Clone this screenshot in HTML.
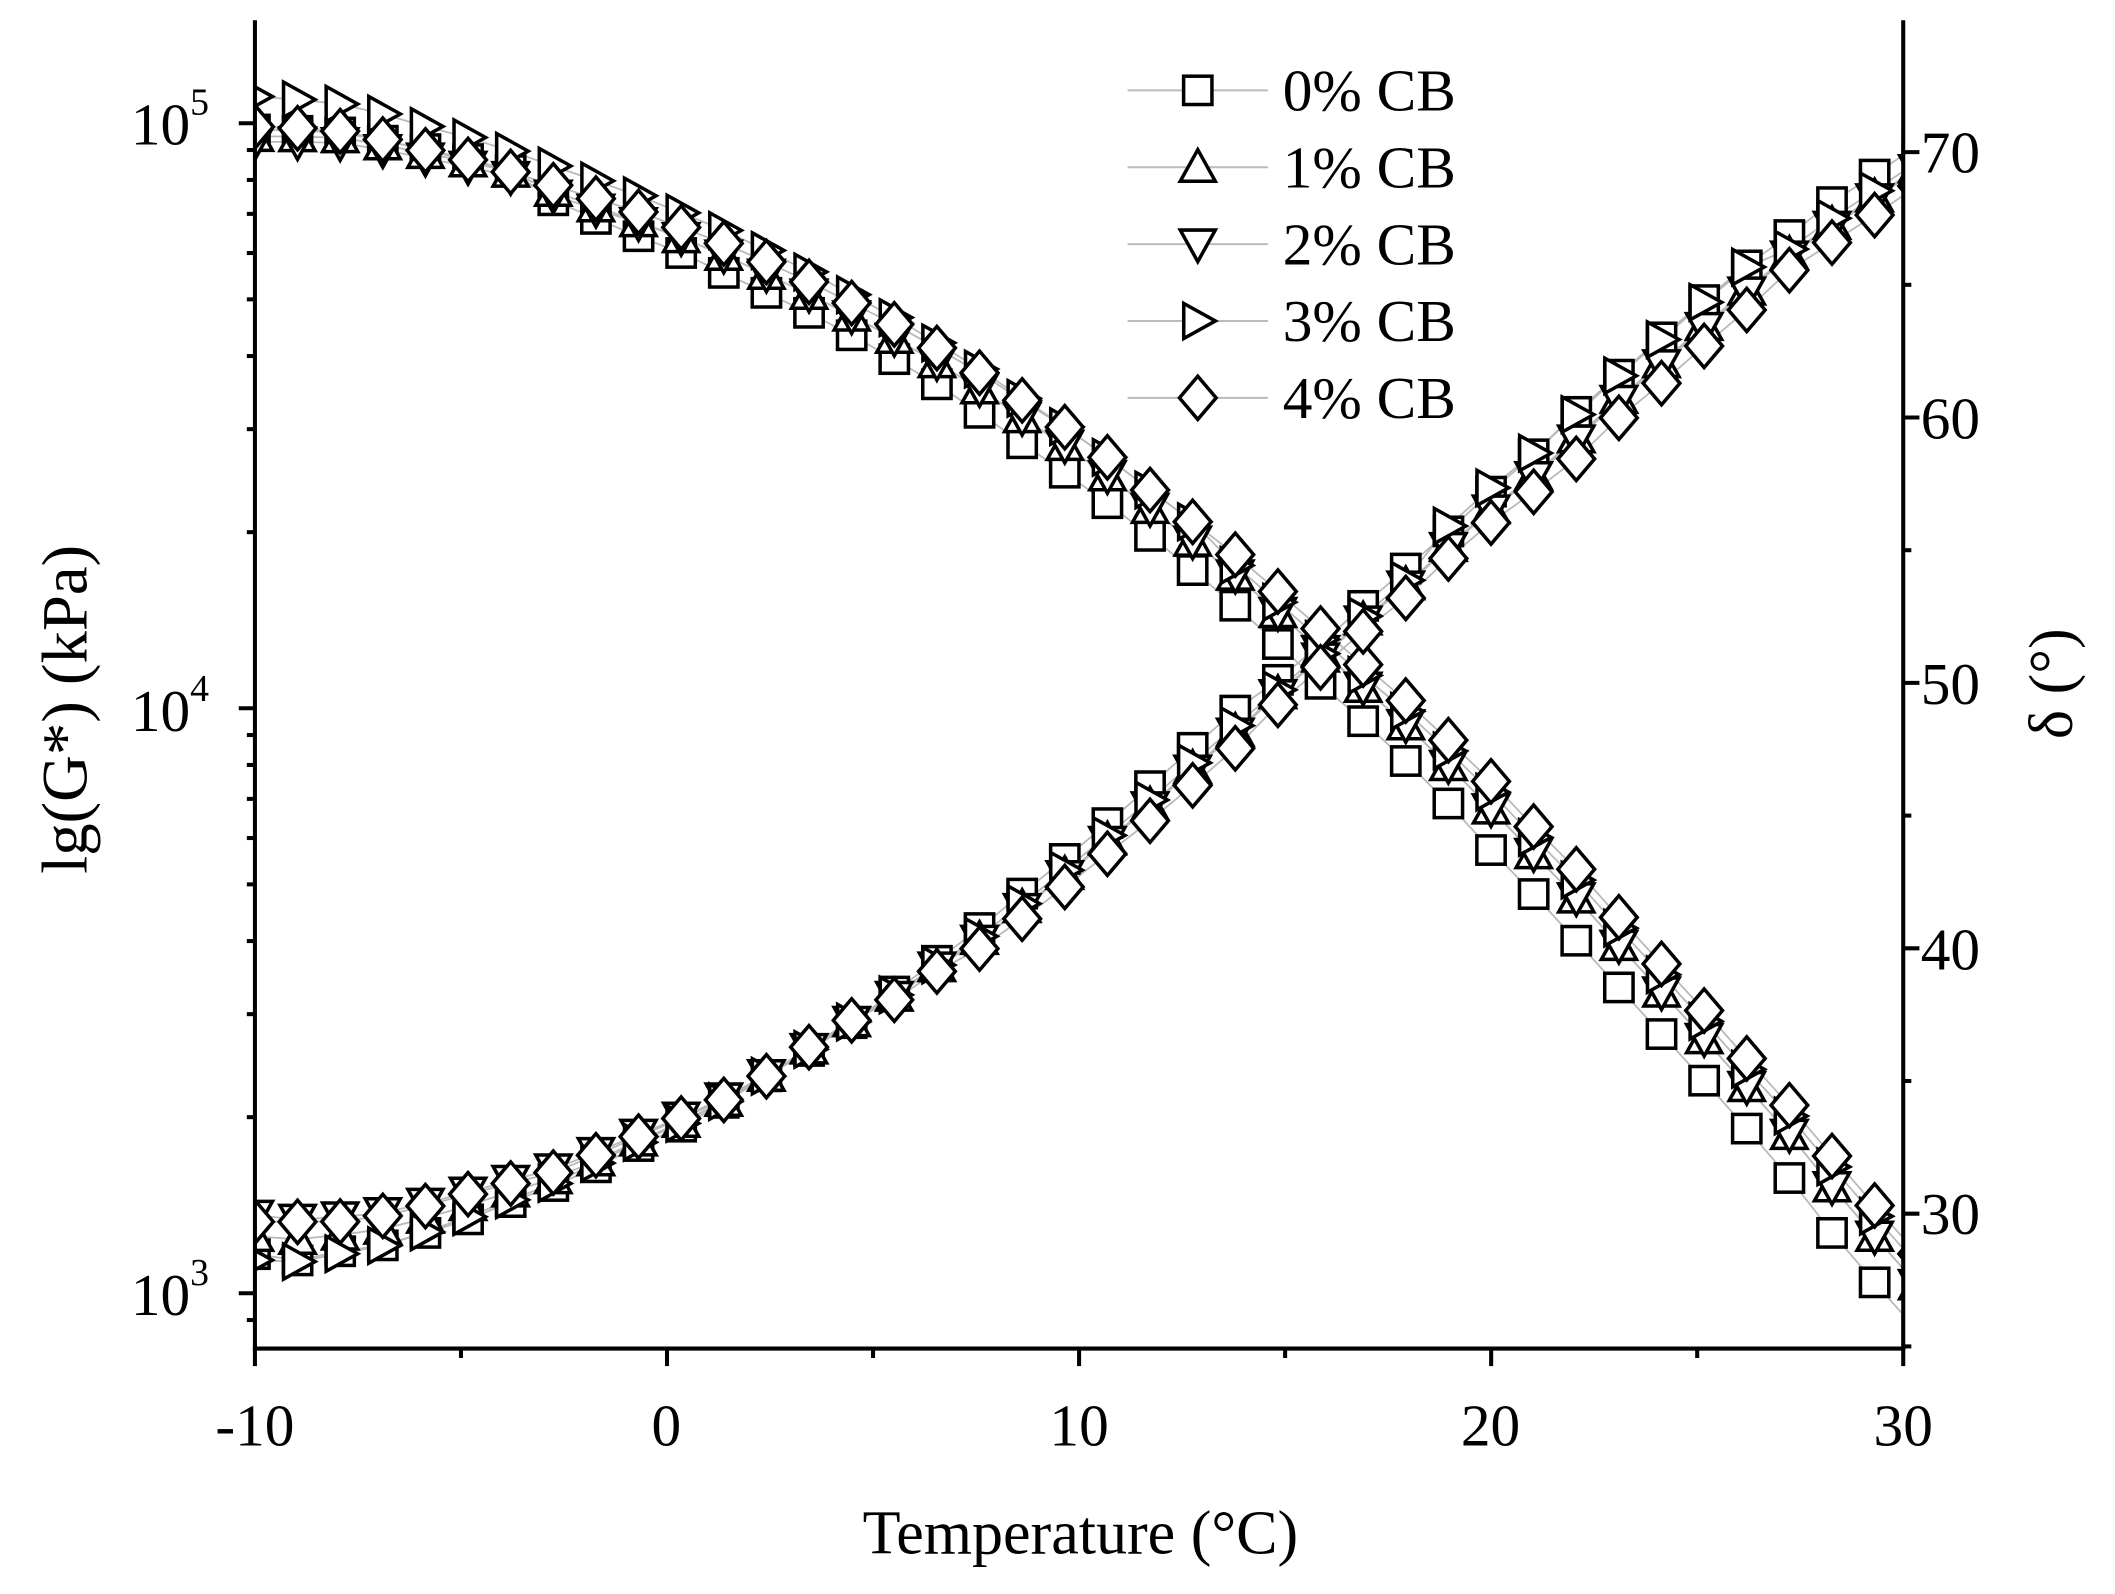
<!DOCTYPE html>
<html><head><meta charset="utf-8"><style>
html,body{margin:0;padding:0;background:#fff;}
svg{display:block;}
text{font-family:"Liberation Serif",serif;fill:#000;}
</style></head><body>
<svg id="s" width="2115" height="1594" viewBox="0 0 1568 1182" preserveAspectRatio="none" xmlns="http://www.w3.org/2000/svg">
<defs><clipPath id="c"><rect x="189" y="10" width="1222" height="990"/></clipPath></defs>
<rect width="1568" height="1182" fill="#fff"/>
<g id="data" clip-path="url(#c)"></g>
<g id="axes" stroke="#000" stroke-width="3" fill="none">
<line x1="189" y1="15" x2="189" y2="1001.5"/>
<line x1="1411" y1="15" x2="1411" y2="1001.5"/>
<line x1="187.5" y1="1000" x2="1412.5" y2="1000"/>
</g>
<g id="ticks" stroke="#000" stroke-width="3"></g>
<g font-size="44">
<text x="189" y="1072" text-anchor="middle">-10</text>
<text x="494" y="1072" text-anchor="middle">0</text>
<text x="800" y="1072" text-anchor="middle">10</text>
<text x="1105" y="1072" text-anchor="middle">20</text>
<text x="1411" y="1072" text-anchor="middle">30</text>
<text x="97" y="107">10<tspan font-size="28" dy="-22">5</tspan></text>
<text x="97" y="542">10<tspan font-size="28" dy="-22">4</tspan></text>
<text x="97" y="975">10<tspan font-size="28" dy="-22">3</tspan></text>
<text x="1424" y="128">70</text>
<text x="1424" y="325">60</text>
<text x="1424" y="522">50</text>
<text x="1424" y="719">40</text>
<text x="1424" y="915">30</text>
<text x="801" y="1152" text-anchor="middle" font-size="46">Temperature (°C)</text>
<text transform="translate(64,526) rotate(-90)" text-anchor="middle" font-size="48">lg(G*) (kPa)</text>
<text transform="translate(1536,507) rotate(-90)" text-anchor="middle" font-size="46">δ (°)</text>
</g>
<g id="legend"></g>
</svg>
<script>
var NS="http://www.w3.org/2000/svg";
function el(p,n,a){var e=document.createElementNS(NS,n);for(var k in a)e.setAttribute(k,a[k]);p.appendChild(e);return e;}
var T=document.getElementById('ticks');
for(var i=0;i<=8;i++){var x=189+i*152.75;var big=i%2==0;el(T,'line',{x1:x,y1:1000,x2:x,y2:big?1013:1007});}
var dec=433.8;function ly(v){return 959-(Math.log10(v)-3)*dec;}
for(var d=2;d<=5;d++){for(var m=1;m<=9;m++){var v=m*Math.pow(10,d);var y=ly(v);if(y<15||y>1000)continue;el(T,'line',{x1:m==1?177:183,y1:y,x2:189,y2:y});}}
function ry(v){return 900-(v-30)*19.68;}
for(var v=25;v<=75;v+=5){var y=ry(v);if(y<15||y>1000)continue;el(T,'line',{x1:1411,y1:y,x2:v%10==0?1423:1417,y2:y});}
var xs=[];for(var i=0;i<=39;i++)xs.push(189+i*31.6);
function interp(pts,x){for(var i=0;i<pts.length-1;i++){if(x<=pts[i+1][0]){var a=pts[i],b=pts[i+1];return a[1]+(b[1]-a[1])*(x-a[0])/(b[0]-a[0]);}}var a=pts[pts.length-2],b=pts[pts.length-1];return a[1]+(b[1]-a[1])*(x-a[0])/(b[0]-a[0]);}
var G0=[[189,96],[251,98],[313,110],[377,125],[409,148],[441,162],[473,175],[506,188],[538,203],[570,218],[602,233],[634,250],[666,268],[698,287],[729,308],[761,331],[793,353],[825,376],[856,400],[887,425],[918,451],[949,479],[980,508],[1012,536],[1044,566],[1075,597],[1106,631],[1138,664],[1169,698],[1200,732],[1232,767],[1264,802],[1296,838],[1327,874],[1358,914],[1389,950],[1411,975]];
var G4=[[189,94],[219,95],[251,97],[282,103],[313,111],[345,118],[377,127],[409,137],[441,147],[473,157],[506,169],[538,181],[570,195],[602,210],[634,226],[666,242],[698,260],[729,278],[761,299],[793,319],[825,342],[856,366],[887,389],[918,413],[949,440],[980,467],[1012,494],[1044,521],[1075,550],[1106,580],[1138,614],[1169,645],[1200,680],[1232,715],[1264,750],[1296,786],[1327,820],[1358,857],[1389,893],[1411,918]];
var D0=[[189,930],[219,935],[251,928],[282,924],[313,915],[345,905],[377,892],[409,880],[441,866],[473,850],[506,835],[538,817],[570,797],[602,778],[634,757],[666,733],[698,710],[729,686],[761,660],[793,634],[825,607],[856,580],[887,552],[918,525],[949,503],[980,477],[1012,448],[1044,420],[1075,393],[1106,364],[1138,336],[1169,305],[1200,278],[1232,250],[1264,222],[1296,196],[1327,174],[1358,150],[1389,130],[1411,115]];
var D4=[[189,906],[219,906],[251,906],[282,902],[313,895],[345,886],[377,878],[409,870],[441,857],[473,843],[506,829],[538,815],[570,797],[602,775],[634,755],[666,740],[698,718],[729,702],[761,679],[793,655],[825,630],[856,606],[887,580],[918,553],[949,521],[980,494],[1012,467],[1044,442],[1075,413],[1106,387],[1138,364],[1169,340],[1200,310],[1232,284],[1264,256],[1296,229],[1327,200],[1358,180],[1389,160],[1411,145]];
function mix(a,b,t,x){return interp(a,x)*(1-t)+interp(b,x)*t;}
var series=[
 {m:'sq',g:function(x){return interp(G0,x);},d:function(x){return interp(D0,x);}},
 {m:'up',g:function(x){return mix(G0,G4,0.6,x)+(x<400?6*(400-x)/200:0);},d:function(x){return mix(D0,D4,0.55,x);}},
 {m:'dn',g:function(x){return mix(G0,G4,0.6,x)+(x<500?10*(500-x)/300:0);},d:function(x){return mix(D0,D4,0.6,x)-(x<600?14*(600-x)/400:0);}},
 {m:'rt',g:function(x){return interp(G4,x)-(x<800?22*(800-x)/600:0)+(x>900?8:0);},d:function(x){return mix(D0,D4,0.4,x)+(x<450?14*(450-x)/260:0)-(x>1050&&x<1300?12:0);}},
 {m:'di',g:function(x){return interp(G4,x);},d:function(x){return interp(D4,x);}}
];
function marker(p,type,x,y){var a={fill:'#fff',stroke:'#000','stroke-width':2.6};var s;
 if(type=='sq'){s=10.5;a.x=x-s;a.y=y-s;a.width=2*s;a.height=2*s;return el(p,'rect',a);}
 if(type=='di'){s=16;a.points=[x,y-s,x+s*0.85,y,x,y+s,x-s*0.85,y].join(' ');return el(p,'polygon',a);}
 s=13;var pts;
 if(type=='up')pts=[x,y-s,x+s,y+s*0.8,x-s,y+s*0.8];
 if(type=='dn')pts=[x,y+s,x+s,y-s*0.8,x-s,y-s*0.8];
 if(type=='rt')pts=[x+s,y,x-s*0.8,y-s,x-s*0.8,y+s];
 a.points=pts.join(' ');return el(p,'polygon',a);}
var D=document.getElementById('data');
var lines=el(D,'g',{}),marks=el(D,'g',{});
series.forEach(function(s){['g','d'].forEach(function(k){var pts=xs.map(function(x){return x+','+s[k](x).toFixed(1);});el(lines,'polyline',{points:pts.join(' '),fill:'none',stroke:'#b8b8b8','stroke-width':1.3});});});
series.forEach(function(s){xs.forEach(function(x){marker(marks,s.m,x,s.g(x));marker(marks,s.m,x,s.d(x));});});
var L=document.getElementById('legend');var names=['0% CB','1% CB','2% CB','3% CB','4% CB'];
series.forEach(function(s,i){var y=67+i*57;el(L,'line',{x1:836,y1:y,x2:940,y2:y,stroke:'#bbb','stroke-width':1.5});marker(L,s.m,888,y);var t=el(L,'text',{x:951,y:y+15,'font-size':44});t.textContent=names[i];});
</script>
</body></html>
